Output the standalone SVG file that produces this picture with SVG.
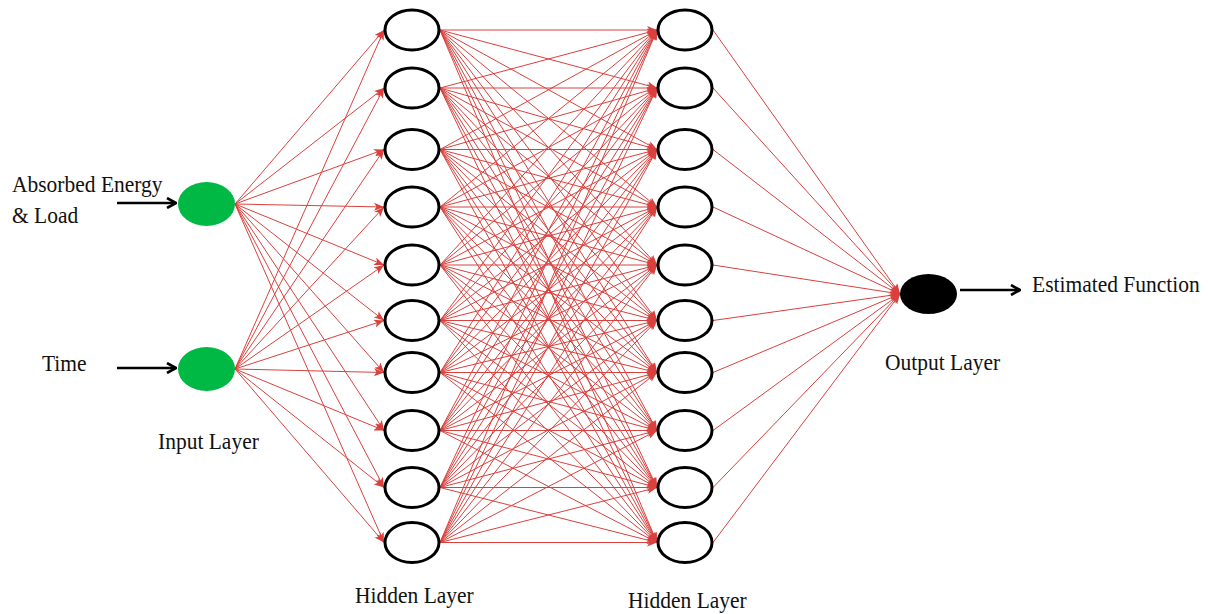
<svg xmlns="http://www.w3.org/2000/svg" width="1208" height="614" viewBox="0 0 1208 614">
<style>
.bg{fill:#fff}
.c line{stroke:#d9413e;stroke-width:1;fill:none;marker-end:url(#ar)}
.c line.ba{stroke:#000;stroke-width:2.6;marker-end:url(#ab)}
.h{fill:#fff;stroke:#000;stroke-width:3}
.in{fill:#00b945;stroke:none}
.out{fill:#000;stroke:none}
.t{font-family:"Liberation Serif","Times New Roman",serif;font-size:21.5px;fill:#111}
</style>
<defs>
<marker id="ar" viewBox="0 0 10 8" refX="10" refY="4" markerWidth="10" markerHeight="8" markerUnits="userSpaceOnUse" orient="auto">
<path d="M0,0 L10,4 L0,8 L2.5,4 z" fill="#d9413e"/>
</marker>
<marker id="ab" viewBox="0 0 12 12" refX="11" refY="6" markerWidth="12" markerHeight="12" markerUnits="userSpaceOnUse" orient="auto">
<path d="M2,1 L11,6 L2,11" fill="none" stroke="#000" stroke-width="2.6"/>
</marker>
</defs>
<rect class="bg" width="1208" height="614"/>
<g id="connectors" class="c">
<line x1="235" y1="204" x2="384" y2="30"/><line x1="235" y1="204" x2="384" y2="88"/><line x1="235" y1="204" x2="384" y2="149.5"/><line x1="235" y1="204" x2="384" y2="207"/><line x1="235" y1="204" x2="384" y2="265"/><line x1="235" y1="204" x2="384" y2="320.5"/><line x1="235" y1="204" x2="384" y2="372.5"/><line x1="235" y1="204" x2="384" y2="430.5"/><line x1="235" y1="204" x2="384" y2="487.5"/><line x1="235" y1="204" x2="384" y2="542.5"/>
<line x1="235" y1="369" x2="384" y2="30"/><line x1="235" y1="369" x2="384" y2="88"/><line x1="235" y1="369" x2="384" y2="149.5"/><line x1="235" y1="369" x2="384" y2="207"/><line x1="235" y1="369" x2="384" y2="265"/><line x1="235" y1="369" x2="384" y2="320.5"/><line x1="235" y1="369" x2="384" y2="372.5"/><line x1="235" y1="369" x2="384" y2="430.5"/><line x1="235" y1="369" x2="384" y2="487.5"/><line x1="235" y1="369" x2="384" y2="542.5"/>
<line x1="440" y1="30" x2="657" y2="30"/><line x1="440" y1="30" x2="657" y2="88"/><line x1="440" y1="30" x2="657" y2="149.5"/><line x1="440" y1="30" x2="657" y2="207"/><line x1="440" y1="30" x2="657" y2="265"/><line x1="440" y1="30" x2="657" y2="320.5"/><line x1="440" y1="30" x2="657" y2="372.5"/><line x1="440" y1="30" x2="657" y2="430.5"/><line x1="440" y1="30" x2="657" y2="487.5"/><line x1="440" y1="30" x2="657" y2="542.5"/>
<line x1="440" y1="88" x2="657" y2="30"/><line x1="440" y1="88" x2="657" y2="88"/><line x1="440" y1="88" x2="657" y2="149.5"/><line x1="440" y1="88" x2="657" y2="207"/><line x1="440" y1="88" x2="657" y2="265"/><line x1="440" y1="88" x2="657" y2="320.5"/><line x1="440" y1="88" x2="657" y2="372.5"/><line x1="440" y1="88" x2="657" y2="430.5"/><line x1="440" y1="88" x2="657" y2="487.5"/><line x1="440" y1="88" x2="657" y2="542.5"/>
<line x1="440" y1="149.5" x2="657" y2="30"/><line x1="440" y1="149.5" x2="657" y2="88"/><line x1="440" y1="149.5" x2="657" y2="149.5"/><line x1="440" y1="149.5" x2="657" y2="207"/><line x1="440" y1="149.5" x2="657" y2="265"/><line x1="440" y1="149.5" x2="657" y2="320.5"/><line x1="440" y1="149.5" x2="657" y2="372.5"/><line x1="440" y1="149.5" x2="657" y2="430.5"/><line x1="440" y1="149.5" x2="657" y2="487.5"/><line x1="440" y1="149.5" x2="657" y2="542.5"/>
<line x1="440" y1="207" x2="657" y2="30"/><line x1="440" y1="207" x2="657" y2="88"/><line x1="440" y1="207" x2="657" y2="149.5"/><line x1="440" y1="207" x2="657" y2="207"/><line x1="440" y1="207" x2="657" y2="265"/><line x1="440" y1="207" x2="657" y2="320.5"/><line x1="440" y1="207" x2="657" y2="372.5"/><line x1="440" y1="207" x2="657" y2="430.5"/><line x1="440" y1="207" x2="657" y2="487.5"/><line x1="440" y1="207" x2="657" y2="542.5"/>
<line x1="440" y1="265" x2="657" y2="30"/><line x1="440" y1="265" x2="657" y2="88"/><line x1="440" y1="265" x2="657" y2="149.5"/><line x1="440" y1="265" x2="657" y2="207"/><line x1="440" y1="265" x2="657" y2="265"/><line x1="440" y1="265" x2="657" y2="320.5"/><line x1="440" y1="265" x2="657" y2="372.5"/><line x1="440" y1="265" x2="657" y2="430.5"/><line x1="440" y1="265" x2="657" y2="487.5"/><line x1="440" y1="265" x2="657" y2="542.5"/>
<line x1="440" y1="320.5" x2="657" y2="30"/><line x1="440" y1="320.5" x2="657" y2="88"/><line x1="440" y1="320.5" x2="657" y2="149.5"/><line x1="440" y1="320.5" x2="657" y2="207"/><line x1="440" y1="320.5" x2="657" y2="265"/><line x1="440" y1="320.5" x2="657" y2="320.5"/><line x1="440" y1="320.5" x2="657" y2="372.5"/><line x1="440" y1="320.5" x2="657" y2="430.5"/><line x1="440" y1="320.5" x2="657" y2="487.5"/><line x1="440" y1="320.5" x2="657" y2="542.5"/>
<line x1="440" y1="372.5" x2="657" y2="30"/><line x1="440" y1="372.5" x2="657" y2="88"/><line x1="440" y1="372.5" x2="657" y2="149.5"/><line x1="440" y1="372.5" x2="657" y2="207"/><line x1="440" y1="372.5" x2="657" y2="265"/><line x1="440" y1="372.5" x2="657" y2="320.5"/><line x1="440" y1="372.5" x2="657" y2="372.5"/><line x1="440" y1="372.5" x2="657" y2="430.5"/><line x1="440" y1="372.5" x2="657" y2="487.5"/><line x1="440" y1="372.5" x2="657" y2="542.5"/>
<line x1="440" y1="430.5" x2="657" y2="30"/><line x1="440" y1="430.5" x2="657" y2="88"/><line x1="440" y1="430.5" x2="657" y2="149.5"/><line x1="440" y1="430.5" x2="657" y2="207"/><line x1="440" y1="430.5" x2="657" y2="265"/><line x1="440" y1="430.5" x2="657" y2="320.5"/><line x1="440" y1="430.5" x2="657" y2="372.5"/><line x1="440" y1="430.5" x2="657" y2="430.5"/><line x1="440" y1="430.5" x2="657" y2="487.5"/><line x1="440" y1="430.5" x2="657" y2="542.5"/>
<line x1="440" y1="487.5" x2="657" y2="30"/><line x1="440" y1="487.5" x2="657" y2="88"/><line x1="440" y1="487.5" x2="657" y2="149.5"/><line x1="440" y1="487.5" x2="657" y2="207"/><line x1="440" y1="487.5" x2="657" y2="265"/><line x1="440" y1="487.5" x2="657" y2="320.5"/><line x1="440" y1="487.5" x2="657" y2="372.5"/><line x1="440" y1="487.5" x2="657" y2="430.5"/><line x1="440" y1="487.5" x2="657" y2="487.5"/><line x1="440" y1="487.5" x2="657" y2="542.5"/>
<line x1="440" y1="542.5" x2="657" y2="30"/><line x1="440" y1="542.5" x2="657" y2="88"/><line x1="440" y1="542.5" x2="657" y2="149.5"/><line x1="440" y1="542.5" x2="657" y2="207"/><line x1="440" y1="542.5" x2="657" y2="265"/><line x1="440" y1="542.5" x2="657" y2="320.5"/><line x1="440" y1="542.5" x2="657" y2="372.5"/><line x1="440" y1="542.5" x2="657" y2="430.5"/><line x1="440" y1="542.5" x2="657" y2="487.5"/><line x1="440" y1="542.5" x2="657" y2="542.5"/>
<line x1="713" y1="30" x2="900" y2="294"/><line x1="713" y1="88" x2="900" y2="294"/><line x1="713" y1="149.5" x2="900" y2="294"/><line x1="713" y1="207" x2="900" y2="294"/><line x1="713" y1="265" x2="900" y2="294"/><line x1="713" y1="320.5" x2="900" y2="294"/><line x1="713" y1="372.5" x2="900" y2="294"/><line x1="713" y1="430.5" x2="900" y2="294"/><line x1="713" y1="487.5" x2="900" y2="294"/><line x1="713" y1="542.5" x2="900" y2="294"/>
<line class="ba" x1="117" y1="203" x2="176" y2="203"/>
<line class="ba" x1="117" y1="368" x2="176" y2="368"/>
<line class="ba" x1="960" y1="290" x2="1020" y2="290"/>
</g>
<g id="input1"><ellipse class="in" cx="206.5" cy="204" rx="28.5" ry="22"/></g>
<g id="input2"><ellipse class="in" cx="206.5" cy="369" rx="28.5" ry="22"/></g>
<g id="hidden1">
<ellipse class="h" cx="412" cy="30" rx="27" ry="20"/>
<ellipse class="h" cx="412" cy="88" rx="27" ry="20"/>
<ellipse class="h" cx="412" cy="149.5" rx="27" ry="20"/>
<ellipse class="h" cx="412" cy="207" rx="27" ry="20"/>
<ellipse class="h" cx="412" cy="265" rx="27" ry="20"/>
<ellipse class="h" cx="412" cy="320.5" rx="27" ry="20"/>
<ellipse class="h" cx="412" cy="372.5" rx="27" ry="20"/>
<ellipse class="h" cx="412" cy="430.5" rx="27" ry="20"/>
<ellipse class="h" cx="412" cy="487.5" rx="27" ry="20"/>
<ellipse class="h" cx="412" cy="542.5" rx="27" ry="20"/>
</g>
<g id="hidden2">
<ellipse class="h" cx="685" cy="30" rx="27" ry="20"/>
<ellipse class="h" cx="685" cy="88" rx="27" ry="20"/>
<ellipse class="h" cx="685" cy="149.5" rx="27" ry="20"/>
<ellipse class="h" cx="685" cy="207" rx="27" ry="20"/>
<ellipse class="h" cx="685" cy="265" rx="27" ry="20"/>
<ellipse class="h" cx="685" cy="320.5" rx="27" ry="20"/>
<ellipse class="h" cx="685" cy="372.5" rx="27" ry="20"/>
<ellipse class="h" cx="685" cy="430.5" rx="27" ry="20"/>
<ellipse class="h" cx="685" cy="487.5" rx="27" ry="20"/>
<ellipse class="h" cx="685" cy="542.5" rx="27" ry="20"/>
</g>
<g id="output"><ellipse class="out" cx="928.5" cy="294" rx="28.5" ry="20"/></g>
<g id="labels">
<text class="t" transform="translate(12,192) scale(1,1.12)">Absorbed Energy</text>
<text class="t" transform="translate(12,223) scale(1,1.12)">&amp; Load</text>
<text class="t" transform="translate(42,371) scale(1,1.12)">Time</text>
<text class="t" transform="translate(158,449) scale(1,1.12)">Input Layer</text>
<text class="t" transform="translate(355,603) scale(1,1.12)">Hidden Layer</text>
<text class="t" transform="translate(628,608) scale(1,1.12)">Hidden Layer</text>
<text class="t" transform="translate(885,370) scale(1,1.12)">Output Layer</text>
<text class="t" transform="translate(1032,292) scale(1,1.12)">Estimated Function</text>
</g>
</svg>
